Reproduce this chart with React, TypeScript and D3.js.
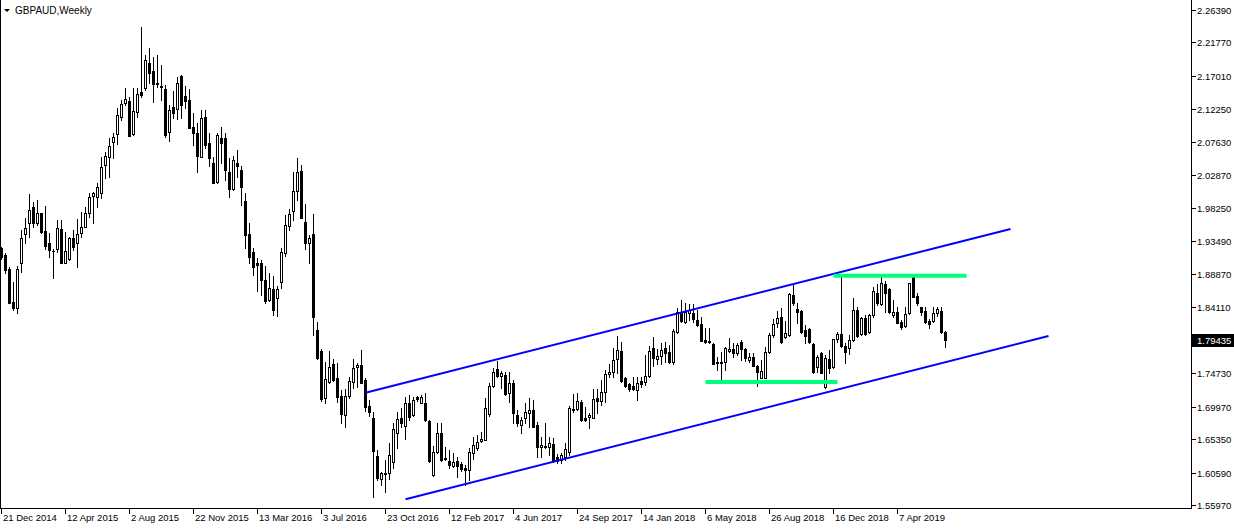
import React from 'react';
import * as d3 from 'd3';

const chartTitle = 'GBPAUD,Weekly';

const opens = [
  1.9258, 1.9154, 1.8950, 1.8490, 1.8395, 1.9045, 1.9448, 1.9604, 1.9832, 1.9604,
  1.9751, 1.9491, 1.9320, 1.9216, 1.9235, 1.9519, 1.9045, 1.9102, 1.9391, 1.9320,
  1.9462, 1.9557, 1.9756, 1.9998, 1.9984, 2.0041, 2.0434, 2.0553, 2.0766, 2.0870,
  2.1112, 2.1321, 2.1345, 2.0875, 2.1193, 2.1473, 2.1525, 2.1881, 2.1767, 2.1606,
  2.1558, 2.1511, 2.0899, 2.1255, 2.1226, 2.1700, 2.1416, 2.1359, 2.0970, 2.0885,
  2.0553, 2.1122, 2.0742, 2.0458, 2.0197, 2.0823, 2.0814, 2.0339, 2.0087, 2.0457,
  2.0363, 1.9921, 1.9452, 1.9196, 1.9035, 1.9035, 1.8798, 1.8513, 1.8665, 1.8537,
  1.8774, 1.9177, 1.9566, 1.9784, 2.0068, 2.0348, 1.9628, 1.9329, 1.9452, 1.8086,
  1.7788, 1.7114, 1.7351, 1.7598, 1.7399, 1.7147, 1.6877, 1.7147, 1.7342, 1.7555,
  1.7588, 1.7375, 1.7005, 1.6830, 1.6294, 1.5960, 1.6034, 1.6058, 1.6205, 1.6627,
  1.6831, 1.6726, 1.7053, 1.6878, 1.7129, 1.7053, 1.7053, 1.6793, 1.6025, 1.6356,
  1.6627, 1.6271, 1.6224, 1.6153, 1.6228, 1.6181, 1.6129, 1.6096, 1.6342, 1.6404,
  1.6513, 1.6522, 1.6892, 1.7291, 1.7528, 1.7433, 1.7447, 1.7196, 1.7328, 1.6878,
  1.6736, 1.6830, 1.6911, 1.6949, 1.6736, 1.6418, 1.6437, 1.6428, 1.6466, 1.6276,
  1.6238, 1.6276, 1.6356, 1.6949, 1.6959, 1.7058, 1.6840, 1.6845, 1.6840, 1.7115,
  1.7077, 1.7200, 1.7456, 1.7485, 1.7670, 1.7788, 1.7399, 1.7319, 1.7290, 1.7233,
  1.7366, 1.7352, 1.7432, 1.7826, 1.7670, 1.7717, 1.7826, 1.7769, 1.7627, 1.8063,
  1.8333, 1.8206, 1.8324, 1.8324, 1.8229, 1.8172, 1.7945, 1.7935, 1.7888, 1.7637,
  1.7637, 1.7637, 1.7788, 1.7812, 1.7755, 1.7921, 1.7812, 1.7660, 1.7707, 1.7575,
  1.7409, 1.7399, 1.7779, 1.8016, 1.8182, 1.8267, 1.7983, 1.8016, 1.8585, 1.8381,
  1.8357, 1.8087, 1.8096, 1.7888, 1.7556, 1.7755, 1.7271, 1.7670, 1.7556, 1.7954,
  1.8030, 1.7859, 1.7826, 1.7945, 1.8372, 1.8030, 1.8253, 1.8063, 1.8300, 1.8618,
  1.8457, 1.8741, 1.8665, 1.8300, 1.8348, 1.8206, 1.8144, 1.8333, 1.8836, 1.8570,
  1.8409, 1.8362, 1.8220, 1.8220, 1.8333, 1.8362, 1.8063,
];

const highs = [
  1.9272, 1.9178, 1.8988, 1.8775, 1.8997, 1.9509, 1.9675, 2.0022, 1.9913, 1.9936,
  1.9756, 1.9851, 1.9462, 1.9235, 1.9652, 1.9652, 1.9486, 1.9415, 1.9509, 1.9661,
  1.9766, 1.9841, 2.0041, 2.0055, 2.0173, 2.0553, 2.0624, 2.0814, 2.0885, 2.1240,
  2.1359, 2.1525, 2.1397, 2.1525, 2.1525, 2.2402, 2.2000, 2.2094, 2.1966, 2.2000,
  2.1857, 2.1572, 2.1288, 2.1492, 2.1691, 2.1715, 2.1563, 2.1511, 2.1169, 2.1027,
  2.1217, 2.1217, 2.0885, 2.0553, 2.0894, 2.0970, 2.0885, 2.0529, 2.0562, 2.0647,
  2.0419, 2.0040, 1.9613, 1.9248, 1.9106, 1.9082, 1.8997, 1.8893, 1.8855, 1.8713,
  1.9248, 1.9722, 1.9803, 2.0339, 2.0529, 2.0434, 1.9874, 1.9438, 1.9737, 1.8205,
  1.7811, 1.7631, 1.7788, 1.7669, 1.7612, 1.7233, 1.7242, 1.7413, 1.7669, 1.7612,
  1.7802, 1.7399, 1.7090, 1.6925, 1.6380, 1.6072, 1.6238, 1.6475, 1.6769, 1.6925,
  1.6973, 1.7139, 1.7163, 1.7129, 1.7148, 1.7163, 1.7196, 1.6807, 1.6437, 1.6759,
  1.6759, 1.6428, 1.6380, 1.6333, 1.6285, 1.6214, 1.6167, 1.6404, 1.6570, 1.6594,
  1.6641, 1.7115, 1.7328, 1.7542, 1.7651, 1.7508, 1.7494, 1.7494, 1.7376, 1.6949,
  1.6854, 1.7044, 1.7115, 1.7091, 1.6783, 1.6570, 1.6759, 1.6570, 1.6546, 1.6323,
  1.6333, 1.6475, 1.7006, 1.7177, 1.7196, 1.7091, 1.6997, 1.6911, 1.7243, 1.7243,
  1.7376, 1.7518, 1.7603, 1.7826, 1.8001, 1.7921, 1.7413, 1.7328, 1.7413, 1.7413,
  1.7413, 1.7731, 1.7859, 1.7992, 1.7812, 1.7907, 1.7921, 1.7874, 1.8096, 1.8395,
  1.8514, 1.8466, 1.8457, 1.8457, 1.8371, 1.8267, 1.8111, 1.8111, 1.7897, 1.7707,
  1.7779, 1.7850, 1.7968, 1.7897, 1.7907, 1.7945, 1.7826, 1.7755, 1.7755, 1.7589,
  1.7660, 1.7850, 1.8039, 1.8239, 1.8362, 1.8395, 1.8220, 1.8608, 1.8727, 1.8466,
  1.8371, 1.8158, 1.8111, 1.7897, 1.7731, 1.7779, 1.7731, 1.7802, 1.7954, 1.8063,
  1.8846, 1.7897, 1.8016, 1.8537, 1.8419, 1.8267, 1.8300, 1.8314, 1.8703, 1.8741,
  1.8869, 1.8789, 1.8679, 1.8514, 1.8409, 1.8229, 1.8409, 1.8760, 1.8869, 1.8608,
  1.8419, 1.8419, 1.8239, 1.8419, 1.8419, 1.8419, 1.8077,
];

const lows = [
  1.9092, 1.8893, 1.8466, 1.8371, 1.8334, 1.8917, 1.9320, 1.9415, 1.9557, 1.9581,
  1.9462, 1.9234, 1.9130, 1.8822, 1.9201, 1.9035, 1.9035, 1.9083, 1.9225, 1.8978,
  1.9415, 1.9548, 1.9699, 1.9604, 1.9841, 1.9960, 2.0245, 2.0268, 2.0529, 2.0733,
  2.1074, 2.1288, 2.0852, 2.0861, 2.1122, 2.1397, 2.1501, 2.1596, 2.1335, 2.1549,
  2.1359, 2.0837, 2.0780, 2.1098, 2.1089, 2.1098, 2.1240, 2.0956, 2.0719, 2.0339,
  2.0553, 2.0671, 2.0425, 2.0173, 2.0173, 2.0467, 2.0220, 1.9983, 2.0078, 2.0268,
  1.9865, 1.9248, 1.9044, 1.8869, 1.8646, 1.8584, 1.8475, 1.8504, 1.8300, 1.8286,
  1.8679, 1.9139, 1.9509, 1.9651, 1.9936, 1.9684, 1.9239, 1.9035, 1.8015, 1.7669,
  1.7081, 1.7043, 1.7337, 1.7366, 1.7067, 1.6759, 1.6711, 1.7114, 1.7257, 1.7271,
  1.7337, 1.6939, 1.6868, 1.5716, 1.5953, 1.5882, 1.5787, 1.5963, 1.6119, 1.6404,
  1.6712, 1.6532, 1.6807, 1.6864, 1.7082, 1.7044, 1.6793, 1.6214, 1.6011, 1.6333,
  1.6228, 1.6238, 1.6119, 1.6134, 1.5991, 1.6086, 1.5882, 1.5953, 1.6247, 1.6380,
  1.6499, 1.6522, 1.6864, 1.7281, 1.7423, 1.7257, 1.7163, 1.7068, 1.6769, 1.6721,
  1.6617, 1.6759, 1.6712, 1.6702, 1.6276, 1.6285, 1.6404, 1.6309, 1.6214, 1.6190,
  1.6200, 1.6238, 1.6309, 1.6925, 1.6949, 1.6797, 1.6797, 1.6688, 1.6830, 1.6902,
  1.7020, 1.7068, 1.7413, 1.7413, 1.7480, 1.7352, 1.7281, 1.7224, 1.7233, 1.7091,
  1.7281, 1.7304, 1.7413, 1.7575, 1.7603, 1.7603, 1.7637, 1.7613, 1.7603, 1.8049,
  1.8206, 1.8182, 1.8229, 1.8206, 1.8144, 1.7935, 1.7897, 1.7897, 1.7603, 1.7518,
  1.7376, 1.7518, 1.7779, 1.7707, 1.7731, 1.7660, 1.7651, 1.7637, 1.7575, 1.7290,
  1.7399, 1.7399, 1.7764, 1.7992, 1.8134, 1.7907, 1.7968, 1.8002, 1.8443, 1.8182,
  1.8049, 1.7897, 1.7907, 1.7470, 1.7494, 1.7470, 1.7257, 1.7470, 1.7541, 1.7921,
  1.7840, 1.7613, 1.7746, 1.7935, 1.7983, 1.8016, 1.8016, 1.8049, 1.8277, 1.8443,
  1.8443, 1.8348, 1.8333, 1.8277, 1.8182, 1.8096, 1.8134, 1.8314, 1.8551, 1.8443,
  1.8300, 1.8191, 1.8111, 1.8206, 1.8286, 1.8049, 1.7850,
];

const closes = [
  1.9130, 1.8940, 1.8466, 1.8395, 1.8950, 1.9391, 1.9533, 1.9789, 1.9604, 1.9747,
  1.9476, 1.9287, 1.9225, 1.9211, 1.9533, 1.9035, 1.9211, 1.9391, 1.9272, 1.9448,
  1.9557, 1.9756, 1.9974, 2.0031, 2.0117, 2.0410, 2.0562, 2.0709, 2.0828, 2.1141,
  2.1297, 2.1378, 2.0852, 2.1202, 2.1440, 2.1435, 2.1923, 2.1738, 2.1591, 2.1582,
  2.1549, 2.0861, 2.1217, 2.1179, 2.1596, 2.1288, 2.1349, 2.0956, 2.0885, 2.0562,
  2.1098, 2.0719, 2.0529, 2.0182, 2.0861, 2.0752, 2.0363, 2.0087, 2.0505, 2.0424,
  2.0125, 1.9438, 1.9120, 1.8987, 1.9011, 1.8798, 1.8504, 1.8679, 1.8371, 1.8665,
  1.9191, 1.9580, 1.9732, 2.0064, 2.0339, 1.9684, 1.9319, 1.9391, 1.8276, 1.7683,
  1.7100, 1.7385, 1.7555, 1.7375, 1.7138, 1.6887, 1.7147, 1.7361, 1.7541, 1.7588,
  1.7337, 1.6996, 1.6925, 1.6370, 1.5976, 1.6058, 1.6048, 1.6309, 1.6674, 1.6816,
  1.6759, 1.7044, 1.6854, 1.7091, 1.7106, 1.7129, 1.6807, 1.6228, 1.6356, 1.6617,
  1.6238, 1.6247, 1.6167, 1.6214, 1.6153, 1.6110, 1.6096, 1.6356, 1.6451, 1.6499,
  1.6532, 1.6973, 1.7291, 1.7494, 1.7433, 1.7470, 1.7177, 1.7328, 1.6911, 1.6759,
  1.6807, 1.6925, 1.6949, 1.6702, 1.6418, 1.6451, 1.6418, 1.6475, 1.6228, 1.6228,
  1.6309, 1.6390, 1.6973, 1.6963, 1.7077, 1.6807, 1.6807, 1.6878, 1.7101, 1.7077,
  1.7210, 1.7461, 1.7485, 1.7660, 1.7802, 1.7361, 1.7290, 1.7243, 1.7243, 1.7328,
  1.7314, 1.7432, 1.7788, 1.7684, 1.7717, 1.7802, 1.7764, 1.7627, 1.8077, 1.8348,
  1.8220, 1.8348, 1.8371, 1.8239, 1.8158, 1.7935, 1.7921, 1.7916, 1.7603, 1.7613,
  1.7622, 1.7826, 1.7816, 1.7764, 1.7874, 1.7812, 1.7684, 1.7707, 1.7575, 1.7494,
  1.7503, 1.7779, 1.8016, 1.8172, 1.8253, 1.7921, 1.8039, 1.8599, 1.8466, 1.8348,
  1.8063, 1.8002, 1.7921, 1.7494, 1.7698, 1.7480, 1.7684, 1.7541, 1.7954, 1.8030,
  1.7859, 1.7779, 1.7945, 1.8372, 1.8002, 1.8253, 1.8030, 1.8300, 1.8646, 1.8466,
  1.8750, 1.8608, 1.8348, 1.8348, 1.8191, 1.8125, 1.8314, 1.8751, 1.8561, 1.8476,
  1.8348, 1.8206, 1.8172, 1.8333, 1.8381, 1.8063, 1.79435,
];

const priceTicks = [
  2.2639, 2.2177, 2.1701, 2.1225, 2.0763, 2.0287, 1.9825, 1.9349, 1.8887, 1.8411,
  1.7473, 1.6997, 1.6535, 1.6059, 1.5597,
];
const priceDomain = [1.5597, 2.2639];

const timeLabels = [
  '21 Dec 2014', '12 Apr 2015', '2 Aug 2015', '22 Nov 2015', '13 Mar 2016',
  '3 Jul 2016', '23 Oct 2016', '12 Feb 2017', '4 Jun 2017', '24 Sep 2017',
  '14 Jan 2018', '6 May 2018', '26 Aug 2018', '16 Dec 2018', '7 Apr 2019',
];
const timeLabelBars = [0, 16, 32, 48, 64, 80, 96, 112, 128, 144, 160, 176, 192, 208, 224];

const lastPrice = 1.79435;

// trend objects: [bar index, price]
const channelUpper = [[91, 1.7195], [252.25, 1.9524]];
const channelLower = [[101, 1.5678], [261.75, 1.8001]];
const resistanceLevel = [[208, 1.8859], [241.25, 1.8859]];
const supportLevel = [[176, 1.7347], [209, 1.7347]];

const W = 1234;
const H = 529;
const plotRight = 1191;
const plotBottom = 508;
const font = "Tahoma, 'Liberation Sans', Arial, sans-serif";

export default function App() {
  const x = d3.scaleLinear().domain([0, 1]).range([1, 5]);
  const y = d3.scaleLinear().domain(priceDomain).range([505, 10]);
  const fmt = d3.format('.5f');

  const candles = opens.map((o, i) => ({ o, h: highs[i], l: lows[i], c: closes[i], i }));

  const line = d3
    .line<number[]>()
    .x((d) => x(d[0]) + 0.5)
    .y((d) => y(d[1]));

  return (
    <svg
      width={W}
      height={H}
      style={{ position: 'absolute', left: 0, top: 0, background: '#fff' }}
      fontFamily={font}
    >
      <rect x={0} y={0} width={W} height={H} fill="#fff" />
      <defs>
        <clipPath id="plot">
          <rect x={0} y={0} width={plotRight} height={plotBottom} />
        </clipPath>
      </defs>
      <g clipPath="url(#plot)" shapeRendering="crispEdges">
        {candles.map((d) => {
          const cx = Math.round(x(d.i));
          const yh = Math.round(y(d.h));
          const yl = Math.round(y(d.l));
          const yo = Math.round(y(d.o));
          const yc = Math.round(y(d.c));
          const top = Math.min(yo, yc);
          const bot = Math.max(yo, yc);
          const bull = d.c >= d.o;
          return (
            <g key={d.i}>
              <rect x={cx} y={yh} width={1} height={yl - yh + 1} fill="#000" />
              <rect x={cx - 1} y={top} width={3} height={bot - top + 1} fill="#000" />
              {bull && bot - top >= 2 && (
                <rect x={cx} y={top + 1} width={1} height={bot - top - 1} fill="#fff" />
              )}
            </g>
          );
        })}
      </g>
      <g clipPath="url(#plot)">
        <path d={line(channelUpper) || ''} stroke="#0000ff" strokeWidth={2} fill="none" />
        <path d={line(channelLower) || ''} stroke="#0000ff" strokeWidth={2} fill="none" />
        <path d={line(resistanceLevel) || ''} stroke="#00ff7f" strokeWidth={4} fill="none" />
        <path d={line(supportLevel) || ''} stroke="#00ff7f" strokeWidth={4} fill="none" />
      </g>
      <g shapeRendering="crispEdges">
        <line x1={0.5} y1={0} x2={0.5} y2={plotBottom} stroke="#000" />
        <line x1={0} y1={plotBottom + 0.5} x2={plotRight + 1} y2={plotBottom + 0.5} stroke="#000" />
        <line x1={plotRight + 0.5} y1={0} x2={plotRight + 0.5} y2={plotBottom + 1} stroke="#000" />
      </g>
      <g>
        {priceTicks.map((p) => {
          const py = Math.round(y(p));
          return (
            <g key={p}>
              <line x1={plotRight} y1={py + 0.5} x2={plotRight + 5} y2={py + 0.5} stroke="#000" shapeRendering="crispEdges" />
              <text x={1197} y={py + 4} fontSize={9.5} fill="#000">
                {fmt(p)}
              </text>
            </g>
          );
        })}
        {(() => {
          const py = Math.round(y(lastPrice));
          return (
            <g>
              <rect x={1192} y={py - 6} width={42} height={13} fill="#000" shapeRendering="crispEdges" />
              <text x={1197} y={py + 4} fontSize={9.5} fill="#fff">
                {fmt(lastPrice)}
              </text>
            </g>
          );
        })()}
      </g>
      <g>
        {timeLabelBars.map((b, k) => {
          const tx = Math.round(x(b));
          return (
            <g key={b}>
              <line x1={tx + 0.5} y1={plotBottom} x2={tx + 0.5} y2={plotBottom + 6} stroke="#000" shapeRendering="crispEdges" />
              <text x={tx + 2} y={521} fontSize={9.5} fill="#000">
                {timeLabels[k]}
              </text>
            </g>
          );
        })}
      </g>
      <g>
        <path d="M4,9 L10,9 L7,12 Z" fill="#000" />
        <text x={15} y={14} fontSize={10} fill="#000">
          {chartTitle}
        </text>
      </g>
    </svg>
  );
}
